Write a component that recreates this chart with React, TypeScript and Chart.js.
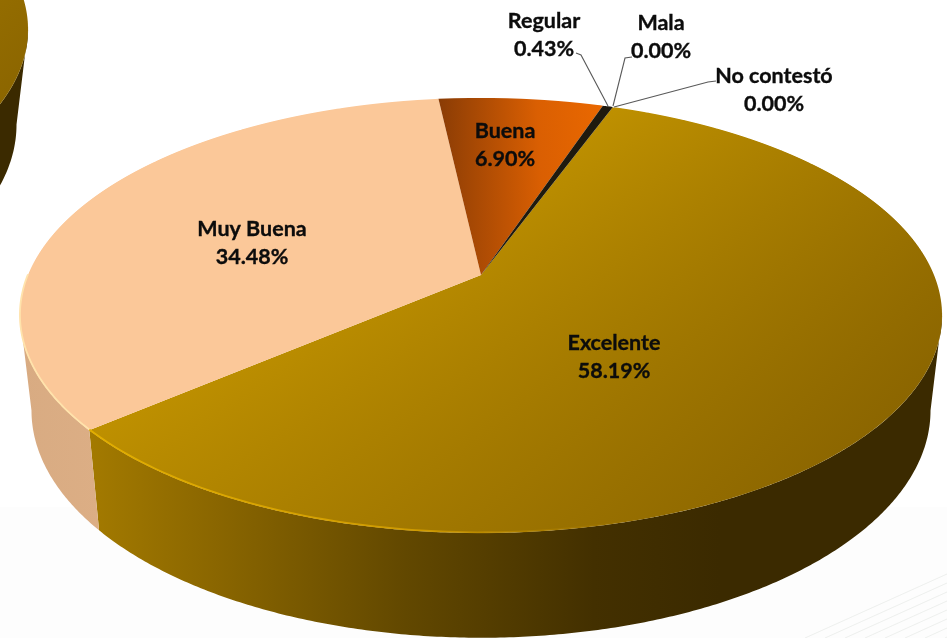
import React, { useEffect, useRef } from "react";
import { Chart, registerables } from "chart.js";

Chart.register(...registerables);

const categories = ["Excelente", "Muy Buena", "Buena", "Regular", "Mala", "No contestó"];
const shares = [58.19, 34.48, 6.9, 0.43, 0, 0];
const valueLabels = ["58.19%", "34.48%", "6.90%", "0.43%", "0.00%", "0.00%"];

// Label centres (layout only)
const labelAnchors = [
  [614, 343],
  [252, 229],
  [505, 131],
  [544, 21],
  [661, 23],
  [774, 76],
];
// Leader lines for the small slices, in label order from "Regular"
const leaders = [
  [[576, 53], [581, 55], [608, 106]],
  [[632, 57], [625, 58], [613, 106]],
  [[716, 81], [708, 82], [614, 107]],
];

// Projective view of the pie's plane
const VIEW = { cx: 481, y0: 275, a: 453, b: 210, p: -0.186 };
const GHOST = { dx: -914, dy: -286 };
const TANGENT = Math.asin(-VIEW.p);

function project(u: number, v: number) {
  const k = 1 + VIEW.p * v;
  return [VIEW.cx + (VIEW.a * u) / k, VIEW.y0 + (VIEW.b * v) / k];
}
function lowerRim(pt: number[]) {
  return [VIEW.cx + 0.975 * (pt[0] - VIEW.cx), pt[1] + 95 + 0.045 * (pt[1] - 316)];
}

function wallFill(ctx: CanvasRenderingContext2D, index: number, dx: number) {
  if (index === 1) {
    const g = ctx.createLinearGradient(20 + dx, 0, 100 + dx, 0);
    g.addColorStop(0, "#d8ab82");
    g.addColorStop(1, "#dcae85");
    return g;
  }
  const g = ctx.createLinearGradient(90 + dx, 0, 720 + dx, 0);
  g.addColorStop(0, "#a37a00");
  g.addColorStop(0.2, "#8a6600");
  g.addColorStop(0.5, "#624800");
  g.addColorStop(0.8, "#433000");
  g.addColorStop(1, "#3b2a00");
  return g;
}

function rimStroke(ctx: CanvasRenderingContext2D, index: number, dx: number) {
  if (index === 1) return "#ffe3ac";
  const g = ctx.createLinearGradient(90 + dx, 0, 640 + dx, 0);
  g.addColorStop(0, "#e2ae00");
  g.addColorStop(0.6, "rgba(214,160,0,0.85)");
  g.addColorStop(1, "rgba(180,130,0,0)");
  return g;
}

function drawPie(chart: any, dx: number, dy: number) {
  const ctx: CanvasRenderingContext2D = chart.ctx;
  const arcs = chart.getDatasetMeta(0).data;
  const W = chart.width;
  const H = chart.height;

  // Side wall, only between the two silhouette tangents
  arcs.forEach((arc: any, i: number) => {
    const s = Math.max(arc.startAngle, TANGENT);
    const e = Math.min(arc.endAngle, Math.PI - TANGENT);
    if (e <= s) return;
    const upper: number[][] = [];
    const steps = Math.max(4, Math.ceil((e - s) * 120));
    for (let n = 0; n <= steps; n++) {
      const t = s + ((e - s) * n) / steps;
      upper.push(project(Math.cos(t), Math.sin(t)));
    }
    ctx.save();
    ctx.setTransform(1, 0, 0, 1, dx, dy);
    ctx.beginPath();
    upper.forEach((q, n) => (n ? ctx.lineTo(q[0], q[1]) : ctx.moveTo(q[0], q[1])));
    [...upper].reverse().forEach((q) => {
      const l = lowerRim(q);
      ctx.lineTo(l[0], l[1]);
    });
    ctx.closePath();
    ctx.setTransform(1, 0, 0, 1, 0, 0);
    ctx.fillStyle = wallFill(ctx, i, dx);
    ctx.fill();
    ctx.restore();
  });

  // Top face: the library's arcs, drawn row by row through the perspective map
  const first = project(0, -1)[1] - 1;
  const last = project(0, 1)[1] + 1;
  for (let Y = Math.floor(first); Y <= Math.ceil(last); Y++) {
    const screen = Y + dy;
    if (screen < -1 || screen > H) continue;
    const w = Y + 0.5 - VIEW.y0;
    const v0 = w / (VIEW.b - VIEW.p * w);
    if (Math.abs(v0) > 1.02) continue;
    const k = 1 + VIEW.p * v0;
    arcs.forEach((arc: any, i: number) => {
      if (shares[i] <= 0) return;
      const R = arc.outerRadius;
      const sx = VIEW.a / (R * k);
      const sy = VIEW.b / (k * k * R);
      ctx.save();
      ctx.beginPath();
      ctx.rect(0, screen, W, 1);
      ctx.clip();
      ctx.setTransform(
        sx, 0, 0, sy,
        VIEW.cx + dx - sx * arc.x,
        screen + 0.5 - (VIEW.b * v0) / (k * k) - sy * arc.y
      );
      arc.draw(ctx);
      ctx.restore();
    });
  }

  // Bright bevel on the near rim
  arcs.forEach((arc: any, i: number) => {
    if (i > 1) return;
    const s = i === 1 ? arc.startAngle : Math.max(arc.startAngle, 0.2);
    const e = i === 1 ? Math.min(arc.endAngle, Math.PI) : arc.endAngle;
    ctx.save();
    ctx.setTransform(1, 0, 0, 1, dx, dy);
    ctx.beginPath();
    for (let n = 0; n <= 120; n++) {
      const t = s + ((e - s) * n) / 120;
      const q = project(Math.cos(t), Math.sin(t));
      n ? ctx.lineTo(q[0], q[1] - 0.7) : ctx.moveTo(q[0], q[1] - 0.7);
    }
    ctx.setTransform(1, 0, 0, 1, 0, 0);
    ctx.strokeStyle = rimStroke(ctx, i, dx);
    ctx.lineWidth = 1.8;
    ctx.stroke();
    ctx.restore();
  });
}

const backdrop = {
  id: "backdrop",
  beforeDraw(chart: any) {
    const ctx: CanvasRenderingContext2D = chart.ctx;
    const W = chart.width;
    const H = chart.height;
    ctx.save();
    ctx.fillStyle = "#ffffff";
    ctx.fillRect(0, 0, W, H);
    ctx.fillStyle = "#fdfdfd";
    ctx.fillRect(0, 507, W, H - 507);
    ctx.strokeStyle = "rgba(214,220,216,0.4)";
    ctx.lineWidth = 1;
    for (let n = 0; n < 8; n++) {
      ctx.beginPath();
      ctx.moveTo(805 + n * 20, H);
      ctx.lineTo(W, 574 + n * 9);
      ctx.stroke();
    }
    ctx.restore();
  },
};

const perspectivePie = {
  id: "perspectivePie",
  beforeDatasetsDraw(chart: any) {
    drawPie(chart, GHOST.dx, GHOST.dy);
    drawPie(chart, 0, 0);
    return false;
  },
  afterDraw(chart: any) {
    const ctx: CanvasRenderingContext2D = chart.ctx;
    ctx.save();
    ctx.strokeStyle = "#595959";
    ctx.lineWidth = 1.1;
    leaders.forEach((pts) => {
      ctx.beginPath();
      pts.forEach((q, n) => (n ? ctx.lineTo(q[0], q[1]) : ctx.moveTo(q[0], q[1])));
      ctx.stroke();
    });
    ctx.fillStyle = "#0c0c0c";
    ctx.strokeStyle = "#0c0c0c";
    ctx.lineWidth = 0.35;
    ctx.font = 'bold 21.5px Lato, "Open Sans", sans-serif';
    ctx.textAlign = "center";
    ctx.textBaseline = "middle";
    categories.forEach((name, i) => {
      const [x, y] = labelAnchors[i];
      ctx.fillText(name, x, y);
      ctx.strokeText(name, x, y);
      ctx.fillText(valueLabels[i], x, y + 28);
      ctx.strokeText(valueLabels[i], x, y + 28);
    });
    ctx.restore();
  },
};

function faceColor(context: any) {
  const i = context.dataIndex;
  const area = context.chart.chartArea;
  const flat = ["#b58800", "#fbc899", "#c85a02", "#1f1a0e", "#000000", "#000000"];
  if (!area || i > 2 || i === 1) return flat[i];
  const cx = (area.left + area.right) / 2;
  const cy = (area.top + area.bottom) / 2;
  const R = Math.min(area.width, area.height) / 2;
  const c = context.chart.ctx as CanvasRenderingContext2D;
  if (i === 0) {
    const g = c.createLinearGradient(
      cx - 0.25 * 0.822 * R, cy - 0.25 * 0.569 * R,
      cx + 0.822 * R, cy + 0.569 * R
    );
    g.addColorStop(0, "#be9000");
    g.addColorStop(1, "#8c6600");
    return g;
  }
  const g = c.createLinearGradient(cx - 0.11 * R, 0, cx + 0.316 * R, 0);
  g.addColorStop(0, "#8a3c05");
  g.addColorStop(0.6, "#da5f02");
  g.addColorStop(1, "#ea6800");
  return g;
}

export default function App() {
  const ref = useRef<HTMLCanvasElement>(null);
  useEffect(() => {
    if (!ref.current) return;
    const chart = new Chart(ref.current, {
      type: "pie",
      data: {
        labels: categories,
        datasets: [{ data: shares, backgroundColor: faceColor, borderWidth: 0 }],
      },
      options: {
        responsive: false,
        animation: false,
        rotation: 20,
        layout: { padding: 0 },
        plugins: { legend: { display: false }, tooltip: { enabled: false } },
      },
      plugins: [backdrop, perspectivePie],
    } as any);
    return () => chart.destroy();
  }, []);
  return (
    <div style={{ position: "absolute", left: 0, top: 0, width: 947, height: 638 }}>
      <canvas ref={ref} width={947} height={638} style={{ display: "block" }} />
    </div>
  );
}
